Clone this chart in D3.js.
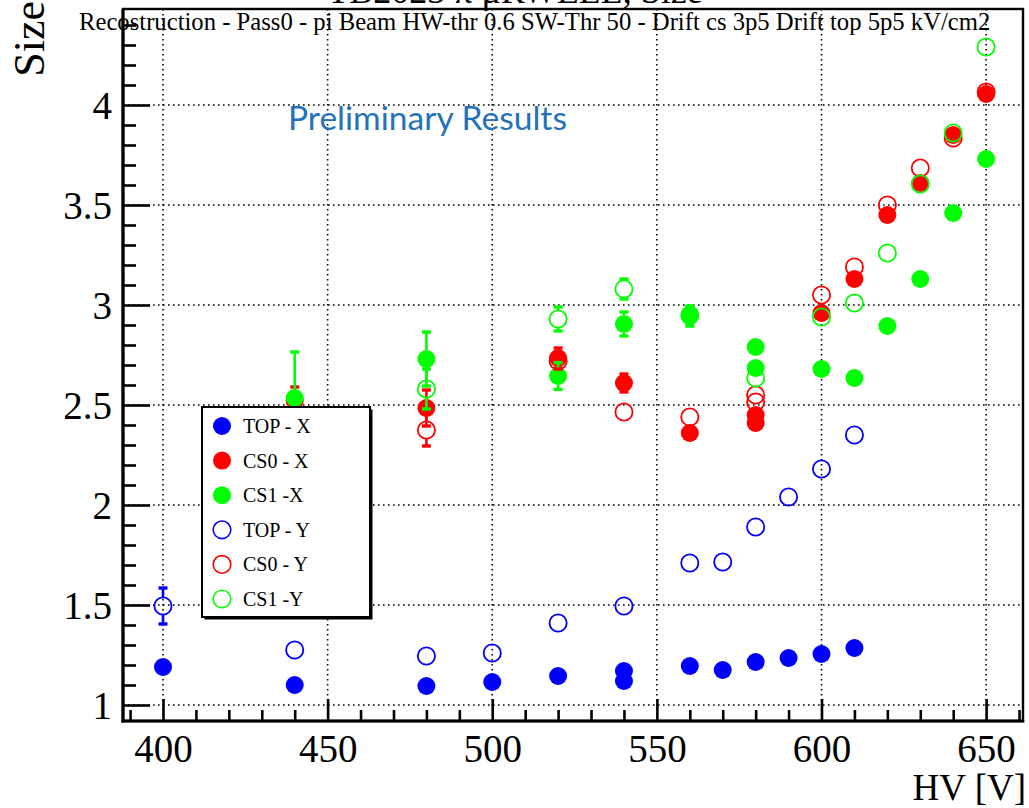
<!DOCTYPE html>
<html><head><meta charset="utf-8">
<script src="https://cdn.jsdelivr.net/npm/d3@7/dist/d3.min.js"></script>
<style>body{margin:0;background:#fff}svg{display:block}</style>
</head><body>
<svg id="c" width="1029" height="808"></svg>
<script>
// ---- data ----
const xTicks = [400, 450, 500, 550, 600, 650];
const yTicks = [1, 1.5, 2, 2.5, 3, 3.5, 4];

const topX_hv  = [400, 440, 480, 500, 520, 540, 540, 560, 570, 580, 590, 600, 610];
const topX     = [1.19, 1.10, 1.095, 1.115, 1.145, 1.17, 1.12, 1.195, 1.175, 1.215, 1.235, 1.255, 1.285];
const topX_err = [0, 0, 0, 0, 0, 0, 0, 0, 0, 0, 0, 0, 0];

const cs0X_hv  = [440, 480, 520, 540, 560, 580, 580, 600, 610, 620, 630, 640, 650];
const cs0X     = [2.52, 2.485, 2.735, 2.61, 2.36, 2.45, 2.41, 2.96, 3.13, 3.45, 3.61, 3.85, 4.055];
const cs0X_err = [0.07, 0.09, 0.05, 0.045, 0, 0, 0, 0, 0, 0, 0, 0, 0];

const cs1X_hv  = [440, 480, 520, 540, 560, 580, 580, 600, 610, 620, 630, 640, 650];
const cs1X     = [2.535, 2.73, 2.645, 2.905, 2.945, 2.79, 2.685, 2.68, 2.635, 2.895, 3.13, 3.46, 3.73];
const cs1X_err = [0.23, 0.135, 0.067, 0.06, 0.05, 0, 0, 0, 0, 0, 0, 0, 0];

const topY_hv  = [400, 440, 480, 500, 520, 540, 560, 570, 580, 590, 600, 610];
const topY     = [1.495, 1.275, 1.245, 1.26, 1.41, 1.495, 1.71, 1.715, 1.89, 2.04, 2.18, 2.35];
const topY_err = [0.09, 0, 0, 0, 0, 0, 0, 0, 0, 0, 0, 0];

const cs0Y_hv  = [480, 520, 540, 560, 580, 580, 600, 610, 620, 630, 640, 650];
const cs0Y     = [2.375, 2.72, 2.465, 2.44, 2.55, 2.515, 3.05, 3.19, 3.5, 3.685, 3.835, 4.065];
const cs0Y_err = [0.08, 0.04, 0, 0, 0, 0, 0, 0, 0, 0, 0, 0];

const cs1Y_hv  = [480, 520, 540, 560, 580, 600, 610, 620, 630, 640, 650];
const cs1Y     = [2.58, 2.93, 3.08, 2.95, 2.635, 2.94, 3.01, 3.26, 3.605, 3.86, 4.29];
const cs1Y_err = [0.1, 0.06, 0.05, 0.04, 0, 0, 0, 0, 0, 0, 0];

const seriesNames = ["TOP - X", "CS0 - X", "CS1 -X", "TOP - Y", "CS0 - Y", "CS1 -Y"];
const seriesColors = ["#0000ff", "#ff0000", "#00ff00", "#0000ff", "#ff0000", "#00ff00"];
const seriesFilled = [true, true, true, false, false, false];
const seriesHV = [topX_hv, cs0X_hv, cs1X_hv, topY_hv, cs0Y_hv, cs1Y_hv];
const seriesVal = [topX, cs0X, cs1X, topY, cs0Y, cs1Y];
const seriesErr = [topX_err, cs0X_err, cs1X_err, topY_err, cs0Y_err, cs1Y_err];

const titleText = "Recostruction - Pass0 - pi Beam HW-thr 0.6 SW-Thr 50 - Drift cs 3p5 Drift top 5p5 kV/cm2";
const mainTitle = "TB2023 \u03c0 \u03bcRWELL, Size";

// ---- layout ----
const L = 123, R = 1023, T = 9, B = 721;
const svg = d3.select("#c");
const x = d3.scaleLinear().domain([387.85, 661.2]).range([L, R]);
const y = d3.scaleLinear().domain([0.92, 4.48]).range([B, T]);
const serif = "'Liberation Serif','Times New Roman',serif";

// grid
const grid = svg.append("g").attr("stroke", "#000").attr("stroke-width", 1.6)
  .attr("stroke-dasharray", "1.6,3.4");
grid.selectAll("line.gx").data(xTicks).join("line")
  .attr("x1", d => x(d)).attr("x2", d => x(d)).attr("y1", T).attr("y2", B);
grid.selectAll("line.gy").data(yTicks).join("line")
  .attr("y1", d => y(d)).attr("y2", d => y(d)).attr("x1", L).attr("x2", R);

// minor ticks
const xMinor = d3.range(390, 661, 10).filter(v => v % 50 !== 0);
const yMinor = d3.range(10, 45).map(v => v / 10).filter(v => Math.abs(v * 2 - Math.round(v * 2)) > 1e-6);

const gxMinor = svg.append("g").attr("transform", `translate(0,${B})`)
  .call(d3.axisBottom(x).tickValues(xMinor).tickSize(-11).tickFormat(""));
const gyMinor = svg.append("g").attr("transform", `translate(${L},0)`)
  .call(d3.axisLeft(y).tickValues(yMinor).tickSize(-13).tickFormat(""));

const gx = svg.append("g").attr("transform", `translate(0,${B})`)
  .call(d3.axisBottom(x).tickValues(xTicks).tickSize(-22).tickPadding(13).tickFormat(d3.format("d")));
const gy = svg.append("g").attr("transform", `translate(${L},0)`)
  .call(d3.axisLeft(y).tickValues(yTicks).tickSize(-27).tickPadding(11).tickFormat(d3.format("~g")));

[gxMinor, gyMinor, gx, gy].forEach(g => {
  g.select(".domain").remove();
  g.selectAll(".tick line").attr("stroke", "#000").attr("stroke-width", 2.6);
  g.selectAll(".tick text").attr("font-family", serif).attr("font-size", 39).attr("fill", "#000");
});
gy.selectAll(".tick text").attr("dy", "0.34em");

// frame
svg.append("rect").attr("x", L).attr("y", T).attr("width", R - L).attr("height", B - T)
  .attr("fill", "none").attr("stroke", "#000").attr("stroke-width", 2.4);
svg.append("line").attr("x1", L).attr("x2", L).attr("y1", T).attr("y2", B + 1.5)
  .attr("stroke", "#000").attr("stroke-width", 3.2);
svg.append("line").attr("x1", L - 1.5).attr("x2", R + 1.2).attr("y1", B).attr("y2", B)
  .attr("stroke", "#000").attr("stroke-width", 3.2);

// data
const r = 9;
const pts = svg.append("g");
seriesNames.forEach((name, si) => {
  const col = seriesColors[si];
  const data = seriesHV[si].map((hv, i) => ({hv, v: seriesVal[si][i], e: seriesErr[si][i]}));
  const g = pts.append("g");
  data.filter(d => d.e > 0).forEach(d => {
    const cx = x(d.hv), cy = y(d.v), yt = y(d.v + d.e), yb = y(d.v - d.e);
    if (cy - r > yt) g.append("line").attr("x1", cx).attr("x2", cx).attr("y1", yt).attr("y2", cy - r)
      .attr("stroke", col).attr("stroke-width", 2.6);
    if (yb > cy + r) g.append("line").attr("x1", cx).attr("x2", cx).attr("y1", cy + r).attr("y2", yb)
      .attr("stroke", col).attr("stroke-width", 2.6);
    [yt, yb].forEach(yy => g.append("line").attr("x1", cx - 4.5).attr("x2", cx + 4.5)
      .attr("y1", yy).attr("y2", yy).attr("stroke", col).attr("stroke-width", 3.4));
  });
  g.selectAll("circle").data(data).join("circle")
    .attr("cx", d => x(d.hv)).attr("cy", d => y(d.v))
    .attr("r", seriesFilled[si] ? r : r - 0.4)
    .attr("fill", seriesFilled[si] ? col : "none")
    .attr("stroke", col).attr("stroke-width", seriesFilled[si] ? 0 : 1.8);
});

// legend
const lg = svg.append("g");
const lx = 202, ly = 407, lw = 168, lh = 210;
lg.append("rect").attr("x", lx + 2.5).attr("y", ly + 2.5).attr("width", lw).attr("height", lh).attr("fill", "#000");
lg.append("rect").attr("x", lx).attr("y", ly).attr("width", lw).attr("height", lh)
  .attr("fill", "#fff").attr("stroke", "#000").attr("stroke-width", 2);
const rowY = d3.scalePoint().domain(seriesNames).range([426, 599]);
seriesNames.forEach((name, si) => {
  const yy = rowY(name);
  lg.append("circle").attr("cx", 222).attr("cy", yy).attr("r", seriesFilled[si] ? 9 : 8.8)
    .attr("fill", seriesFilled[si] ? seriesColors[si] : "none")
    .attr("stroke", seriesColors[si]).attr("stroke-width", seriesFilled[si] ? 0 : 1.6);
  lg.append("text").attr("x", 243).attr("y", yy).attr("dy", "0.35em")
    .attr("font-family", serif).attr("font-size", 20).attr("fill", "#000").text(name);
});

// titles
const tt = svg.append("text").attr("x", 79).attr("y", 30).attr("font-family", serif)
  .attr("font-size", 20).attr("fill", "#000").text(titleText);
const w = tt.node().getComputedTextLength();
tt.attr("font-size", 20 * 912 / w);

svg.append("text").attr("x", 515).attr("y", 3).attr("text-anchor", "middle")
  .attr("font-family", serif).attr("font-size", 36).attr("fill", "#000").text(mainTitle);

svg.append("text").attr("transform", "translate(44,1) rotate(-90)").attr("text-anchor", "end")
  .attr("font-family", serif).attr("font-size", 44).attr("fill", "#000").text("Size");

svg.append("text").attr("x", 1026).attr("y", 800).attr("text-anchor", "end")
  .attr("font-family", serif).attr("font-size", 37).attr("fill", "#000").text("HV [V]");

const pr = svg.append("text").attr("x", 288).attr("y", 130)
  .attr("font-family", "Lato,'Open Sans',sans-serif").attr("font-size", 28).attr("fill", "#2472b9")
  .text("Preliminary Results");
const pw = pr.node().getComputedTextLength();
pr.attr("font-size", 28 * 279 / pw);
</script>
</body></html>
